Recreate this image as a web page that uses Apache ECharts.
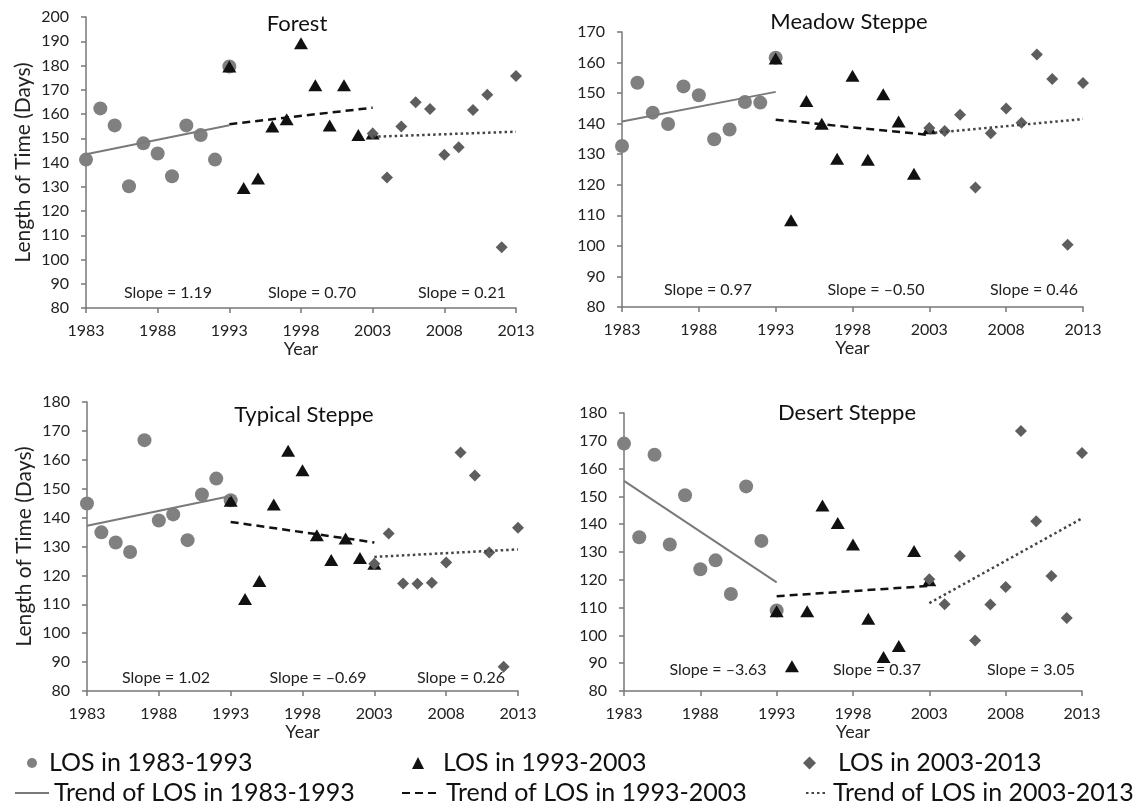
<!DOCTYPE html>
<html>
<head>
<meta charset="utf-8">
<title>Length of Season</title>
<script src="https://cdn.jsdelivr.net/npm/echarts@6/dist/echarts.min.js"></script>
<style>
    html, body { margin: 0; padding: 0; background: #fff; }
    #main { width: 1148px; height: 812px; }
</style>
</head>
<body>
<div id="main"></div>
<script>
'use strict';

// years of each period
var yearsA = [1983, 1984, 1985, 1986, 1987, 1988, 1989, 1990, 1991, 1992, 1993];
var yearsB = [1993, 1994, 1995, 1996, 1997, 1998, 1999, 2000, 2001, 2002, 2003];
var yearsC = [2003, 2004, 2005, 2006, 2007, 2008, 2009, 2010, 2011, 2012, 2013];
var xTicks = [1983, 1988, 1993, 1998, 2003, 2008, 2013];

// Forest
var forestA = [141.2, 162.3, 155.3, 130.2, 147.9, 143.7, 134.3, 155.3, 151.3, 141.2, 179.6];
var forestB = [179.6, 129.5, 133.4, 154.8, 157.8, 189.2, 171.9, 155.3, 171.9, 151.3, 152.0];
var forestC = [152.0, 133.8, 154.8, 164.8, 162.1, 143.2, 146.3, 161.7, 167.9, 105.1, 175.7];
var forestTrend = [[143.4, 155.4], [155.8, 162.6], [150.6, 152.7]];
var forestSlope = ['Slope = 1.19', 'Slope = 0.70', 'Slope = 0.21'];

// Meadow Steppe
var meadowA = [132.7, 153.4, 143.6, 139.9, 152.2, 149.3, 134.9, 138.1, 147.1, 146.9, 161.6];
var meadowB = [161.3, 108.4, 147.4, 140.0, 128.5, 155.7, 128.2, 149.6, 140.7, 123.6, 138.5];
var meadowC = [138.6, 137.6, 142.9, 119.1, 136.9, 145.0, 140.3, 162.6, 154.6, 100.4, 153.3];
var meadowTrend = [[140.7, 150.4], [141.3, 136.3], [136.9, 141.5]];
var meadowSlope = ['Slope = 0.97', 'Slope = \u20130.50', 'Slope = 0.46'];

// Typical Steppe
var typicalA = [144.9, 134.9, 131.4, 128.1, 166.8, 139.0, 141.1, 132.2, 148.0, 153.5, 146.0];
var typicalB = [145.8, 111.8, 118.1, 144.5, 163.1, 156.4, 133.9, 125.3, 132.8, 126.0, 124.0];
var typicalC = [124.0, 134.5, 117.2, 117.1, 117.5, 124.5, 162.5, 154.6, 127.9, 88.4, 136.5];
var typicalTrend = [[137.2, 147.5], [138.5, 131.4], [126.4, 129.0]];
var typicalSlope = ['Slope = 1.02', 'Slope = \u20130.69', 'Slope = 0.26'];

// Desert Steppe
var desertA = [169.0, 135.3, 165.0, 132.7, 150.4, 123.8, 127.0, 114.9, 153.6, 134.0, 109.0];
var desertB = [108.7, 88.9, 108.7, 146.7, 140.4, 132.7, 106.0, 92.2, 96.2, 130.4, 119.8];
var desertC = [120.2, 111.2, 128.6, 98.2, 111.1, 117.4, 173.5, 141.1, 121.4, 106.3, 165.6];
var desertTrend = [[155.6, 119.1], [114.1, 117.8], [111.6, 142.1]];
var desertSlope = ['Slope = \u20133.63', 'Slope = 0.37', 'Slope = 3.05'];

var pointNames = ['LOS in 1983-1993', 'LOS in 1993-2003', 'LOS in 2003-2013'];
var trendNames = ['Trend of LOS in 1983-1993', 'Trend of LOS in 1993-2003', 'Trend of LOS in 2003-2013'];

var FONT = 'Lato, "Open Sans", sans-serif';

var panels = [
    { title: 'Forest', a: forestA, b: forestB, c: forestC, trend: forestTrend, slope: forestSlope,
      grid: { left: 86, top: 17, width: 430, height: 291 }, max: 200, yName: true,
      titlePos: [297, 24], slopeY: 293, slopeX: [168, 312, 462] },
    { title: 'Meadow Steppe', a: meadowA, b: meadowB, c: meadowC, trend: meadowTrend, slope: meadowSlope,
      grid: { left: 622, top: 32, width: 461, height: 275 }, max: 170, yName: false,
      titlePos: [849, 22], slopeY: 290, slopeX: [708, 876, 1034] },
    { title: 'Typical Steppe', a: typicalA, b: typicalB, c: typicalC, trend: typicalTrend, slope: typicalSlope,
      grid: { left: 87, top: 402, width: 431, height: 289 }, max: 180, yName: true,
      titlePos: [304, 415], slopeY: 678, slopeX: [166, 318, 461] },
    { title: 'Desert Steppe', a: desertA, b: desertB, c: desertC, trend: desertTrend, slope: desertSlope,
      grid: { left: 624, top: 413, width: 458, height: 278 }, max: 180, yName: false,
      titlePos: [847, 413], slopeY: 670, slopeX: [718, 877, 1031] }
];

function pairs(xs, ys) {
    var out = [];
    for (var i = 0; i < xs.length; i++) {
        out.push([xs[i], ys[i]]);
    }
    return out;
}

var axisLine = { show: true, lineStyle: { color: '#777', width: 1.5 } };
var axisTick = { show: true, length: 5, lineStyle: { color: '#777', width: 1.5 } };

var grids = [], xAxes = [], yAxes = [], series = [], graphics = [];

var pointStyle = [
    { symbol: 'circle', size: 14, color: '#808080' },
    { symbol: 'triangle', size: [14, 12], color: '#111111' },
    { symbol: 'diamond', size: 12, color: '#5e5e5e' }
];
var trendStyle = [
    { color: '#7a7a7a', width: 2, type: 'solid' },
    { color: '#111111', width: 2.5, type: [8, 5] },
    { color: '#444444', width: 2.5, type: [2.5, 3] }
];
var periodYears = [yearsA, yearsB, yearsC];
var periodEnds = [[1983, 1993], [1993, 2003], [2003, 2013]];

panels.forEach(function (p, k) {
    grids.push(p.grid);
    xAxes.push({
        type: 'value', gridIndex: k, min: 1983, max: 2013, interval: 5,
        name: 'Year', nameLocation: 'middle', nameGap: 31,
        nameTextStyle: { fontFamily: FONT, fontSize: 18, color: '#222' },
        splitLine: { show: false },
        axisLine: axisLine, axisTick: axisTick,
        axisLabel: { margin: 15, fontFamily: FONT, fontSize: 16, color: '#222',
            formatter: function (v) { return xTicks.indexOf(v) >= 0 ? String(v) : ''; } }
    });
    yAxes.push({
        type: 'value', gridIndex: k, min: 80, max: p.max, interval: 10,
        name: p.yName ? 'Length of Time (Days)' : '', nameLocation: 'middle', nameRotate: 90, nameGap: 52,
        nameTextStyle: { fontFamily: FONT, fontSize: 21, color: '#222' },
        splitLine: { show: false },
        axisLine: axisLine, axisTick: axisTick,
        axisLabel: { margin: 17, fontFamily: FONT, fontSize: 16, color: '#222' }
    });

    var vals = [p.a, p.b, p.c];
    for (var j = 0; j < 3; j++) {
        series.push({
            name: pointNames[j], type: 'scatter', xAxisIndex: k, yAxisIndex: k,
            symbol: pointStyle[j].symbol, symbolSize: pointStyle[j].size,
            itemStyle: { color: pointStyle[j].color, opacity: 1 },
            z: 2 + j,
            data: pairs(periodYears[j], vals[j])
        });
    }
    for (var t = 0; t < 3; t++) {
        series.push({
            name: trendNames[t], type: 'line', xAxisIndex: k, yAxisIndex: k,
            symbol: 'none', z: 6,
            lineStyle: { color: trendStyle[t].color, width: trendStyle[t].width, type: trendStyle[t].type },
            itemStyle: { color: trendStyle[t].color },
            data: pairs(periodEnds[t], p.trend[t])
        });
    }

    graphics.push({
        type: 'text', x: p.titlePos[0], y: p.titlePos[1],
        style: { text: p.title, font: '22px ' + FONT, fill: '#111', align: 'center', verticalAlign: 'middle' }
    });
    for (var s = 0; s < 3; s++) {
        graphics.push({
            type: 'text', x: p.slopeX[s], y: p.slopeY,
            style: { text: p.slope[s], font: '16px ' + FONT, fill: '#222', align: 'center', verticalAlign: 'middle' }
        });
    }
});

// legend, one component per item so each sits where the figure has it
var legends = [
    { name: pointNames[0], left: 27, top: 749, w: 10, h: 10, pad: 7 },
    { name: pointNames[1], left: 412, top: 749, w: 12, h: 12, pad: 14 },
    { name: pointNames[2], left: 803, top: 749, w: 13, h: 13, pad: 17 },
    { name: trendNames[0], left: 14, top: 779, w: 34, h: 14, pad: 0, line: true },
    { name: trendNames[1], left: 401, top: 779, w: 39, h: 14, pad: 0, line: true },
    { name: trendNames[2], left: 805, top: 779, w: 22, h: 14, pad: 0, line: true }
].map(function (l) {
    return {
        data: [l.name], left: l.left, top: l.top, padding: 0,
        itemWidth: l.w, itemHeight: l.h, itemGap: 0,
        selectedMode: false,
        itemStyle: l.line ? { opacity: 0 } : {},
        textStyle: { fontFamily: FONT, fontSize: 25, color: '#111', lineHeight: 28, padding: [0, 0, 0, l.pad] }
    };
});

var myChart = echarts.init(document.getElementById('main'));
myChart.setOption({
    animation: false,
    backgroundColor: '#fff',
    grid: grids,
    xAxis: xAxes,
    yAxis: yAxes,
    legend: legends,
    graphic: graphics,
    series: series
});
</script>
</body>
</html>
